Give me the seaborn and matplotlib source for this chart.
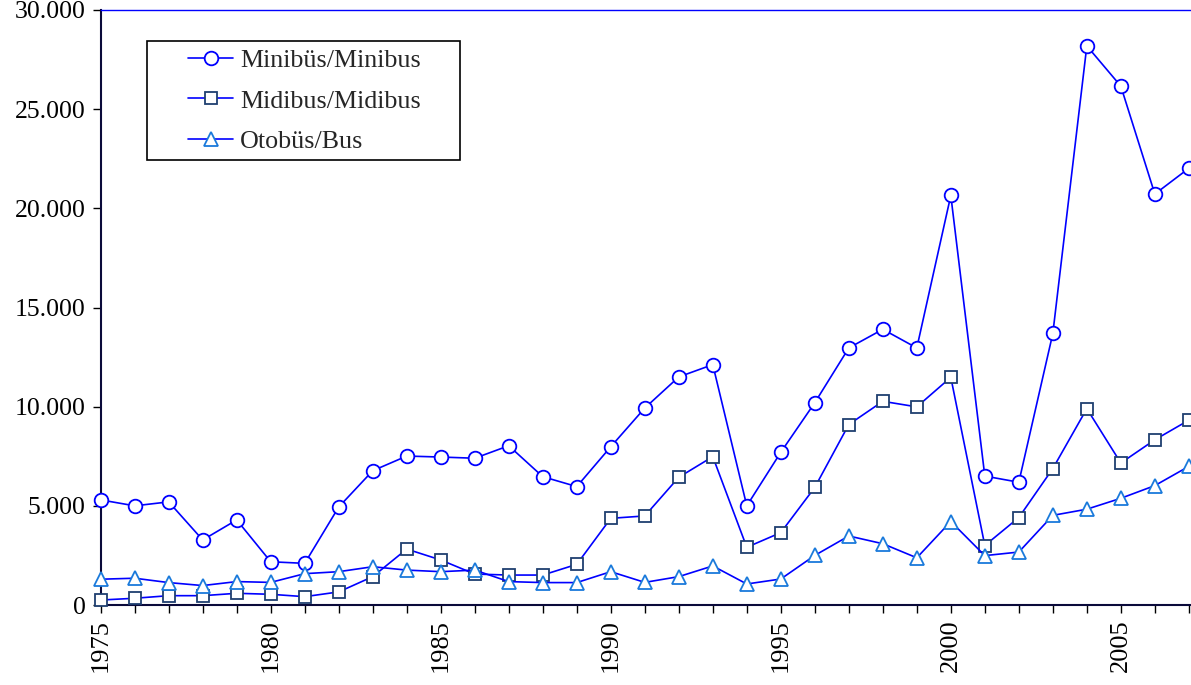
import pandas as pd
import matplotlib
matplotlib.use("Agg")
import matplotlib.pyplot as plt
import matplotlib.ticker as mticker
from matplotlib.patches import Rectangle
import seaborn as sns

# data
years = list(range(1975, 2008))
minibus = [5300, 5000, 5200, 3280, 4290, 2180, 2100, 4940, 6770, 7510, 7460, 7400,
           8030, 6470, 5970, 7980, 9930, 11500, 12120, 5000, 7700, 10200, 12960,
           13900, 12960, 20650, 6500, 6190, 13690, 28190, 26160, 20720, 22020]
midibus = [250, 340, 470, 470, 590, 540, 420, 660, 1430, 2820, 2270, 1560,
           1510, 1510, 2050, 4370, 4490, 6440, 7480, 2910, 3650, 5930, 9100,
           10270, 9990, 11480, 3000, 4410, 6880, 9900, 7160, 8330, 9320]
bus = [1300, 1350, 1130, 980, 1180, 1140, 1580, 1680, 1930, 1760, 1680, 1760,
       1180, 1130, 1130, 1680, 1140, 1430, 1970, 1060, 1310, 2500, 3480,
       3090, 2380, 4210, 2490, 2670, 4520, 4830, 5380, 6020, 6990]
labels = ["Minibüs/Minibus", "Midibus/Midibus", "Otobüs/Bus"]

df = pd.DataFrame({"year": years, labels[0]: minibus, labels[1]: midibus, labels[2]: bus})

sns.set_style("ticks")
plt.rcParams['font.family'] = ['Liberation Serif', 'DejaVu Serif']

W, H = 1191, 685
fig = plt.figure(figsize=(W / 100, H / 100), dpi=100)
ax = fig.add_axes([100.7 / W, 80 / H, 1089.5 / W, 595 / H])

# line colour, marker, marker edge colour, marker size
styles = [("#0000FF", "o", "#0000FF", 9.8),
          ("#0000FF", "s", "#1F3F6F", 8.8),
          ("#0000FF", "^", "#1A7ADB", 9.8)]
for lab, (c, m, mec, ms) in zip(labels, styles):
    sns.lineplot(data=df, x="year", y=lab, ax=ax, color=c, marker=m, markersize=ms,
                 markerfacecolor="white", markeredgecolor=mec, markeredgewidth=1.3,
                 linewidth=1.2, label=lab, clip_on=False, zorder=3)

ax.set_xlim(1975, 2007.04)
ax.set_ylim(0, 30000)
ax.set_xlabel("")
ax.set_ylabel("")

ax.set_yticks(range(0, 30001, 5000))
ax.yaxis.set_major_formatter(mticker.FuncFormatter(lambda v, p: f"{v:,.0f}".replace(",", ".")))
ax.set_xticks(years)
ax.set_xticklabels([str(y) if y % 5 == 0 else "" for y in years], rotation=90)
ax.tick_params(axis="both", direction="out", length=6, width=1, colors="black")
ax.tick_params(axis="y", labelsize=18.5, pad=5)
ax.tick_params(axis="x", labelsize=19, pad=4)

ax.spines["right"].set_visible(False)
ax.spines["top"].set_color("#0000FF")
ax.spines["top"].set_linewidth(1)
ax.spines["left"].set_color("#0A0A3A")
ax.spines["bottom"].set_color("#0A0A3A")
ax.spines["left"].set_linewidth(1.5)
ax.spines["bottom"].set_linewidth(1.5)

# legend without its own frame, the box drawn separately (wider side padding)
leg = ax.legend(loc="upper left", bbox_to_anchor=(188 / W, 1 - 49 / H),
                bbox_transform=fig.transFigure, fontsize=18.7, frameon=False,
                handlelength=1.75, borderpad=0, labelspacing=0.66,
                borderaxespad=0, handletextpad=0.25)
fig.patches.append(Rectangle((147 / W, 1 - 160 / H), 313 / W, 119 / H,
                             transform=fig.transFigure, fill=False,
                             edgecolor="black", linewidth=1.2, zorder=5))

fig.savefig("out.png", dpi=100)
